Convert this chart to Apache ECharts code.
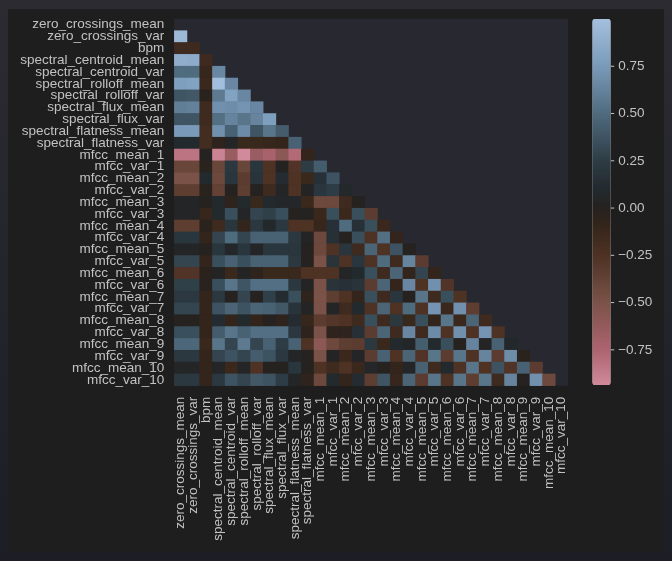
<!DOCTYPE html>
<html>
<head>
<meta charset="utf-8">
<script src="https://cdn.jsdelivr.net/npm/echarts@6/dist/echarts.min.js"></script>
<style>
html,body{margin:0;padding:0;}
#outer{position:absolute;left:0;top:0;width:672px;height:561px;background:linear-gradient(#2b2b31,#1d1d26);}
#panel{position:absolute;left:8px;top:9px;width:656px;height:543px;background:#1e1e1e;}
#chart{position:absolute;left:0;top:0;width:672px;height:561px;}
</style>
</head>
<body>
<div id="outer"></div>
<div id="panel"></div>
<div id="chart"></div>
<script>
const names = ['zero_crossings_mean','zero_crossings_var','bpm','spectral_centroid_mean','spectral_centroid_var',
  'spectral_rolloff_mean','spectral_rolloff_var','spectral_flux_mean','spectral_flux_var','spectral_flatness_mean',
  'spectral_flatness_var','mfcc_mean_1','mfcc_var_1','mfcc_mean_2','mfcc_var_2','mfcc_mean_3','mfcc_var_3',
  'mfcc_mean_4','mfcc_var_4','mfcc_mean_5','mfcc_var_5','mfcc_mean_6','mfcc_var_6','mfcc_mean_7','mfcc_var_7',
  'mfcc_mean_8','mfcc_var_8','mfcc_mean_9','mfcc_var_9','mfcc_mean_10','mfcc_var_10'];

// lower-triangle correlations, row k has values for columns 0..k-1
const r00 = [];
const r01 = [0.95];
const r02 = [-0.15, -0.15];
const r03 = [0.88, 0.86, -0.15];
const r04 = [0.5, 0.5, -0.1, 0.65];
const r05 = [0.78, 0.8, -0.13, 0.99, 0.65];
const r06 = [0.38, 0.4, -0.03, 0.58, 0.8, 0.65];
const r07 = [0.6, 0.62, -0.15, 0.7, 0.68, 0.72, 0.65];
const r08 = [0.38, 0.38, -0.15, 0.52, 0.63, 0.55, 0.63, 0.78];
const r09 = [0.75, 0.75, -0.18, 0.7, 0.45, 0.67, 0.38, 0.55, 0.42];
const r10 = [0.1, 0.1, -0.18, -0.05, 0.05, -0.12, -0.12, -0.1, -0.08, 0.45];
const r11 = [-0.83, -0.83, 0.02, -0.9, -0.65, -0.936, -0.65, -0.72, -0.58, -0.78, -0.08];
const r12 = [-0.4, -0.4, -0.03, -0.4, 0.22, -0.4, 0.2, -0.25, 0.02, -0.27, 0.25, 0.42];
const r13 = [-0.5, -0.5, 0.1, -0.42, 0.2, -0.33, 0.18, -0.25, 0.12, -0.25, -0.12, 0.15, 0.37];
const r14 = [-0.35, -0.35, -0.03, -0.37, 0.0, -0.35, 0.0, -0.15, 0.05, -0.25, 0.03, 0.2, 0.25, 0.08];
const r15 = [0.05, 0.05, 0.0, 0.1, -0.05, 0.1, -0.12, 0.1, 0.07, 0.07, -0.13, -0.42, -0.42, -0.15, 0.0];
const r16 = [0.05, 0.05, -0.1, 0.1, 0.35, 0.05, 0.3, 0.27, 0.35, 0.0, 0.02, -0.13, 0.35, -0.13, 0.35, -0.33];
const r17 = [-0.35, -0.35, -0.03, -0.15, 0.2, -0.08, 0.22, 0.08, 0.22, -0.25, -0.25, -0.1, 0.15, 0.5, 0.15, 0.35, -0.13];
const r18 = [0.2, 0.2, -0.08, 0.3, 0.5, 0.3, 0.45, 0.45, 0.45, 0.22, 0.03, -0.42, 0.15, 0.0, 0.35, -0.25, 0.52, -0.08];
const r19 = [0.05, 0.05, 0.0, 0.2, 0.07, 0.2, 0.05, 0.2, 0.2, 0.2, 0.0, -0.42, -0.25, 0.2, -0.15, 0.47, -0.25, 0.37, 0.0];
const r20 = [0.3, 0.3, -0.08, 0.35, 0.45, 0.35, 0.45, 0.45, 0.45, 0.22, 0.0, -0.5, 0.18, -0.25, 0.2, -0.25, 0.5, -0.15, 0.63, -0.33];
const r21 = [-0.27, -0.27, -0.03, 0.03, -0.12, 0.03, -0.05, -0.12, -0.12, -0.12, -0.25, -0.25, -0.25, 0.05, 0.1, 0.35, -0.15, 0.47, -0.08, 0.3, -0.08];
const r22 = [0.27, 0.27, -0.02, 0.35, 0.55, 0.38, 0.52, 0.52, 0.52, 0.22, 0.03, -0.5, 0.18, 0.15, 0.18, -0.33, 0.47, -0.08, 0.65, -0.25, 0.7, -0.27];
const r23 = [0.22, 0.22, -0.08, 0.22, 0.0, 0.3, 0.0, 0.27, 0.12, 0.35, -0.05, -0.5, -0.35, -0.25, -0.08, 0.35, -0.15, 0.2, 0.0, 0.55, -0.15, 0.35, -0.25];
const r24 = [0.3, 0.3, -0.08, 0.37, 0.47, 0.37, 0.47, 0.45, 0.4, 0.18, 0.03, -0.5, 0.05, -0.15, 0.1, -0.25, 0.47, -0.25, 0.5, -0.25, 0.72, -0.13, 0.7, -0.35];
const r25 = [0.0, 0.0, -0.08, 0.12, -0.08, 0.1, -0.08, 0.0, -0.05, 0.12, -0.1, -0.33, -0.28, -0.25, -0.15, 0.35, -0.15, 0.22, -0.12, 0.35, -0.08, 0.55, -0.13, 0.47, -0.15];
const r26 = [0.35, 0.35, -0.08, 0.42, 0.55, 0.45, 0.52, 0.52, 0.52, 0.22, -0.05, -0.5, -0.05, -0.05, 0.15, -0.33, 0.47, -0.15, 0.65, -0.15, 0.67, -0.25, 0.7, -0.25, 0.72, -0.25];
const r27 = [0.48, 0.48, -0.12, 0.55, 0.3, 0.58, 0.3, 0.45, 0.25, 0.45, -0.25, -0.58, -0.42, -0.35, -0.33, 0.22, -0.13, 0.1, 0.05, 0.43, 0.1, 0.35, 0.0, 0.63, 0.03, 0.45, 0.08];
const r28 = [0.22, 0.22, -0.08, 0.3, 0.37, 0.3, 0.42, 0.37, 0.22, 0.05, 0.0, -0.5, 0.03, -0.13, 0.05, -0.33, 0.45, -0.25, 0.47, -0.27, 0.55, -0.33, 0.55, -0.25, 0.63, -0.33, 0.68, -0.03];
const r29 = [0.05, 0.05, -0.08, 0.05, -0.13, 0.05, -0.25, 0.0, 0.0, 0.2, 0.0, -0.25, -0.15, -0.25, -0.13, 0.07, 0.0, -0.08, 0.05, 0.45, -0.15, 0.1, -0.25, 0.55, -0.25, 0.37, -0.27, 0.45, -0.33];
const r30 = [0.22, 0.22, -0.08, 0.22, 0.37, 0.3, 0.4, 0.37, 0.25, 0.05, -0.05, -0.42, 0.1, -0.08, 0.12, -0.35, 0.38, -0.1, 0.47, -0.33, 0.55, -0.25, 0.55, -0.35, 0.55, -0.15, 0.63, 0.0, 0.7, -0.42];

const rows = [r00,r01,r02,r03,r04,r05,r06,r07,r08,r09,r10,r11,r12,r13,r14,r15,r16,r17,r18,r19,r20,
  r21,r22,r23,r24,r25,r26,r27,r28,r29,r30];

const cbarMin = -0.936, cbarMax = 1.0;
const cbarTicks = [-0.75, -0.5, -0.25, 0.0, 0.25, 0.5, 0.75];

// colormap anchors (style)
const anchors = [
  [-0.936, [208,138,155]],
  [-0.75, [173,100,112]],
  [-0.5, [123,82,72]],
  [-0.25, [77,50,36]],
  [-0.1, [54,38,27]],
  [0.0, [37,33,31]],
  [0.1, [35,42,46]],
  [0.25, [45,60,69]],
  [0.5, [79,107,126]],
  [0.75, [122,154,186]],
  [1.0, [164,192,221]]
];
function cmap(v){
  for(let i=0;i<anchors.length-1;i++){
    const a=anchors[i], b=anchors[i+1];
    if(v<=b[0]||i===anchors.length-2){
      const t=Math.max(0,Math.min(1,(v-a[0])/(b[0]-a[0])));
      const c=a[1].map((x,k)=>Math.round(x+(b[1][k]-x)*t));
      return 'rgb('+c.join(',')+')';
    }
  }
}
const stops=[];
const NS=80;
for(let i=0;i<=NS;i++){stops.push(cmap(cbarMin+(cbarMax-cbarMin)*i/NS));}

const heatData=[];
rows.forEach((r,k)=>{r.forEach((v,j)=>{heatData.push([j,k,v]);});});

const font='Liberation Sans, Arial, sans-serif';
const fs=13.5;
const txtColor='#c2c2c2';

const chart=echarts.init(document.getElementById('chart'),null,{renderer:'canvas'});
chart.setOption({
  backgroundColor:'transparent',
  animation:false,
  grid:[
    {left:174.3,top:18.8,width:393.7,height:366.9,show:true,backgroundColor:'#282831',borderWidth:0},
    {left:592.3,top:19,width:18.4,height:366,show:false}
  ],
  xAxis:[
    {type:'category',data:names,gridIndex:0,
     axisLine:{show:false},axisTick:{show:false},splitLine:{show:false},
     axisLabel:{interval:0,rotate:90,margin:11,color:txtColor,fontFamily:font,fontSize:fs}},
    {type:'value',gridIndex:1,min:0,max:1,show:false}
  ],
  yAxis:[
    {type:'category',data:names,gridIndex:0,inverse:true,
     axisLine:{show:false},axisTick:{show:false},splitLine:{show:false},
     axisLabel:{interval:0,margin:10,color:txtColor,fontFamily:font,fontSize:fs}},
    {type:'value',gridIndex:1,min:cbarMin,max:cbarMax,show:false}
  ],
  visualMap:{
    type:'continuous',min:cbarMin,max:cbarMax,calculable:false,orient:'vertical',
    left:592.3,top:19,itemWidth:18.4,itemHeight:366,padding:0,text:null,
    seriesIndex:0,inRange:{color:stops},showLabel:false
  },
  series:[
    {type:'heatmap',xAxisIndex:0,yAxisIndex:0,data:heatData,itemStyle:{borderWidth:0},emphasis:{disabled:true}},
    {type:'custom',xAxisIndex:1,yAxisIndex:1,silent:true,
     data:cbarTicks.map(v=>[1,v]),
     renderItem:function(params,api){
       const p=api.coord([1,api.value(1)]);
       const v=api.value(1);
       const lab=(v<0?'\u2212':'')+Math.abs(v).toFixed(2);
       return {type:'group',children:[
         {type:'line',shape:{x1:p[0],y1:p[1],x2:p[0]+3.5,y2:p[1]},style:{stroke:txtColor,lineWidth:1}},
         {type:'text',x:p[0]+7.5,y:p[1],style:{text:lab,fill:txtColor,font:fs+'px '+font,verticalAlign:'middle',align:'left'}}
       ]};
     }}
  ]
});
</script>
</body>
</html>
